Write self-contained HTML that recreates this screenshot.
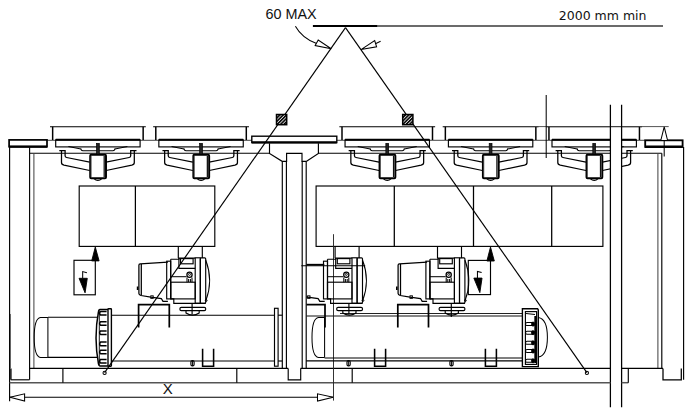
<!DOCTYPE html>
<html><head><meta charset="utf-8"><title>Lifting diagram</title>
<style>html,body{margin:0;padding:0;background:#fff}svg{display:block}text{fill:#111}</style></head>
<body><svg width="686" height="413" viewBox="0 0 686 413" shape-rendering="geometricPrecision">
<rect width="686" height="413" fill="#fff"/>
<text x="265.5" y="19.1" font-size="14.4" font-family='"Liberation Sans", Arial, sans-serif' >60 MAX</text>
<text x="558.8" y="19.9" font-size="12.5" font-family='"DejaVu Sans", Verdana, sans-serif' >2000 mm min</text>
<text x="162.7" y="394.4" font-size="15" font-family='"Liberation Sans", Arial, sans-serif' >X</text>
<line x1="312.9" y1="25.9" x2="377.6" y2="25.9" stroke="#000" stroke-width="1.95" />
<line x1="377.6" y1="26" x2="663" y2="26" stroke="#3a3a3a" stroke-width="1.38" />
<line x1="345.5" y1="27.7" x2="104.6" y2="372.6" stroke="#000" stroke-width="1.15" />
<line x1="345.5" y1="27.7" x2="586.9" y2="372.6" stroke="#000" stroke-width="1.15" />
<circle cx="104.6" cy="372.90000000000003" r="1.6" stroke="#000" stroke-width="1.03" fill="none"/>
<circle cx="586.9" cy="372.90000000000003" r="1.6" stroke="#000" stroke-width="1.03" fill="none"/>
<path d="M295.4,26.2 Q302,38 316.6,43.6" stroke="#000" stroke-width="1.03" fill="none" />
<path d="M315.2,45.6 L318.2,40.0 L331.2,48.7 Z" stroke="#000" stroke-width="1.03" fill="#fff" />
<path d="M361,49.6 L374.7,40.6 L376.6,46.8 Z" stroke="#000" stroke-width="1.03" fill="#fff" />
<line x1="375.4" y1="43.7" x2="380.6" y2="41.3" stroke="#000" stroke-width="1.03" />
<defs><pattern id="h" width="2.4" height="2.4" patternUnits="userSpaceOnUse" patternTransform="rotate(-45)"><rect width="2.4" height="2.4" fill="#ddd"/><rect width="2.4" height="1.5" fill="#000"/></pattern></defs>
<rect x="276.5" y="114.5" width="10.2" height="10.2" fill="url(#h)" stroke="#000" stroke-width="1.5"/>
<rect x="402.7" y="114.5" width="10.2" height="10.2" fill="url(#h)" stroke="#000" stroke-width="1.5"/>
<line x1="47.1" y1="140.3" x2="251.8" y2="140.3" stroke="#333" stroke-width="0.92" />
<line x1="336.8" y1="140.3" x2="645" y2="140.3" stroke="#333" stroke-width="0.92" />
<line x1="29.6" y1="153.2" x2="269.5" y2="153.2" stroke="#000" stroke-width="1.15" />
<line x1="318.4" y1="153.2" x2="610.4" y2="153.2" stroke="#000" stroke-width="1.15" />
<line x1="621.6" y1="153.2" x2="661.8" y2="153.2" stroke="#000" stroke-width="1.15" />
<line x1="50.00000000000001" y1="126.7" x2="145.8" y2="126.7" stroke="#000" stroke-width="1.15" />
<line x1="52.650000000000006" y1="126.7" x2="52.650000000000006" y2="140" stroke="#000" stroke-width="1.49" />
<line x1="143.15" y1="126.7" x2="143.15" y2="140" stroke="#000" stroke-width="1.49" />
<rect x="55.7" y="139.9" width="84.4" height="7.0" rx="0" stroke="#000" stroke-width="1.15" fill="none"/>
<line x1="55.7" y1="139.7" x2="140.10000000000002" y2="139.7" stroke="#000" stroke-width="1.72" />
<path d="M68.4,146.6 L80.9,149 M127.4,146.6 L114.9,149" stroke="#000" stroke-width="1.03" fill="none" />
<path d="M80.9,148.6 Q80.9,150.8 82.9,150.8 L112.9,150.8 Q114.9,150.8 114.9,148.6" stroke="#000" stroke-width="1.03" fill="none" />
<path d="M59.300000000000004,150.7 L65.10000000000001,150.7 L65.10000000000001,155.8 Q65.10000000000001,157.2 66.60000000000001,157.5 L89.7,162.2" stroke="#000" stroke-width="1.26" fill="none" />
<path d="M61.50000000000001,151 L61.50000000000001,162.4 Q61.50000000000001,164.5 64.0,165.1 L89.7,170.5" stroke="#000" stroke-width="1.26" fill="none" />
<path d="M136.5,150.7 L130.7,150.7 L130.7,155.8 Q130.7,157.2 129.2,157.5 L106.10000000000001,162.2" stroke="#000" stroke-width="1.26" fill="none" />
<path d="M134.3,151 L134.3,162.4 Q134.3,164.5 131.8,165.1 L106.10000000000001,170.5" stroke="#000" stroke-width="1.26" fill="none" />
<rect x="96.5" y="143.4" width="2.8" height="11.6" rx="0" stroke="#000" stroke-width="0.69" fill="#222"/>
<rect x="90.2" y="154.7" width="15.8" height="23.6" rx="1" stroke="#000" stroke-width="1.95" fill="#fff"/>
<line x1="104.2" y1="156" x2="104.2" y2="177" stroke="#111" stroke-width="1.26" />
<line x1="91.10000000000001" y1="156" x2="91.10000000000001" y2="177" stroke="#555" stroke-width="0.8" />
<path d="M93.9,178.6 Q97.9,182 101.9,178.6" stroke="#000" stroke-width="1.15" fill="none" />
<line x1="153.15" y1="126.7" x2="248.95000000000002" y2="126.7" stroke="#000" stroke-width="1.15" />
<line x1="155.8" y1="126.7" x2="155.8" y2="140" stroke="#000" stroke-width="1.49" />
<line x1="246.3" y1="126.7" x2="246.3" y2="140" stroke="#000" stroke-width="1.49" />
<rect x="158.85000000000002" y="139.9" width="84.4" height="7.0" rx="0" stroke="#000" stroke-width="1.15" fill="none"/>
<line x1="158.85000000000002" y1="139.7" x2="243.25" y2="139.7" stroke="#000" stroke-width="1.72" />
<path d="M171.55,146.6 L184.05,149 M230.55,146.6 L218.05,149" stroke="#000" stroke-width="1.03" fill="none" />
<path d="M184.05,148.6 Q184.05,150.8 186.05,150.8 L216.05,150.8 Q218.05,150.8 218.05,148.6" stroke="#000" stroke-width="1.03" fill="none" />
<path d="M162.45000000000002,150.7 L168.25,150.7 L168.25,155.8 Q168.25,157.2 169.75,157.5 L192.85000000000002,162.2" stroke="#000" stroke-width="1.26" fill="none" />
<path d="M164.65,151 L164.65,162.4 Q164.65,164.5 167.15,165.1 L192.85000000000002,170.5" stroke="#000" stroke-width="1.26" fill="none" />
<path d="M239.65,150.7 L233.85000000000002,150.7 L233.85000000000002,155.8 Q233.85000000000002,157.2 232.35000000000002,157.5 L209.25,162.2" stroke="#000" stroke-width="1.26" fill="none" />
<path d="M237.45000000000002,151 L237.45000000000002,162.4 Q237.45000000000002,164.5 234.95000000000002,165.1 L209.25,170.5" stroke="#000" stroke-width="1.26" fill="none" />
<rect x="199.65" y="143.4" width="2.8" height="11.6" rx="0" stroke="#000" stroke-width="0.69" fill="#222"/>
<rect x="193.35000000000002" y="154.7" width="15.8" height="23.6" rx="1" stroke="#000" stroke-width="1.95" fill="#fff"/>
<line x1="207.35000000000002" y1="156" x2="207.35000000000002" y2="177" stroke="#111" stroke-width="1.26" />
<line x1="194.25" y1="156" x2="194.25" y2="177" stroke="#555" stroke-width="0.8" />
<path d="M197.05,178.6 Q201.05,182 205.05,178.6" stroke="#000" stroke-width="1.15" fill="none" />
<line x1="339.35" y1="126.7" x2="435.15" y2="126.7" stroke="#000" stroke-width="1.15" />
<line x1="342.0" y1="126.7" x2="342.0" y2="140" stroke="#000" stroke-width="1.49" />
<line x1="432.5" y1="126.7" x2="432.5" y2="140" stroke="#000" stroke-width="1.49" />
<rect x="345.05" y="139.9" width="84.4" height="7.0" rx="0" stroke="#000" stroke-width="1.15" fill="none"/>
<line x1="345.05" y1="139.7" x2="429.45" y2="139.7" stroke="#000" stroke-width="1.72" />
<path d="M357.75,146.6 L370.25,149 M416.75,146.6 L404.25,149" stroke="#000" stroke-width="1.03" fill="none" />
<path d="M370.25,148.6 Q370.25,150.8 372.25,150.8 L402.25,150.8 Q404.25,150.8 404.25,148.6" stroke="#000" stroke-width="1.03" fill="none" />
<path d="M348.65,150.7 L354.45,150.7 L354.45,155.8 Q354.45,157.2 355.95,157.5 L379.05,162.2" stroke="#000" stroke-width="1.26" fill="none" />
<path d="M350.85,151 L350.85,162.4 Q350.85,164.5 353.35,165.1 L379.05,170.5" stroke="#000" stroke-width="1.26" fill="none" />
<path d="M425.85,150.7 L420.05,150.7 L420.05,155.8 Q420.05,157.2 418.55,157.5 L395.45,162.2" stroke="#000" stroke-width="1.26" fill="none" />
<path d="M423.65,151 L423.65,162.4 Q423.65,164.5 421.15,165.1 L395.45,170.5" stroke="#000" stroke-width="1.26" fill="none" />
<rect x="385.85" y="143.4" width="2.8" height="11.6" rx="0" stroke="#000" stroke-width="0.69" fill="#222"/>
<rect x="379.55" y="154.7" width="15.8" height="23.6" rx="1" stroke="#000" stroke-width="1.95" fill="#fff"/>
<line x1="393.55" y1="156" x2="393.55" y2="177" stroke="#111" stroke-width="1.26" />
<line x1="380.45" y1="156" x2="380.45" y2="177" stroke="#555" stroke-width="0.8" />
<path d="M383.25,178.6 Q387.25,182 391.25,178.6" stroke="#000" stroke-width="1.15" fill="none" />
<line x1="442.70000000000005" y1="126.7" x2="538.5" y2="126.7" stroke="#000" stroke-width="1.15" />
<line x1="445.35" y1="126.7" x2="445.35" y2="140" stroke="#000" stroke-width="1.49" />
<line x1="535.85" y1="126.7" x2="535.85" y2="140" stroke="#000" stroke-width="1.49" />
<rect x="448.40000000000003" y="139.9" width="84.4" height="7.0" rx="0" stroke="#000" stroke-width="1.15" fill="none"/>
<line x1="448.40000000000003" y1="139.7" x2="532.8000000000001" y2="139.7" stroke="#000" stroke-width="1.72" />
<path d="M461.1,146.6 L473.6,149 M520.1,146.6 L507.6,149" stroke="#000" stroke-width="1.03" fill="none" />
<path d="M473.6,148.6 Q473.6,150.8 475.6,150.8 L505.6,150.8 Q507.6,150.8 507.6,148.6" stroke="#000" stroke-width="1.03" fill="none" />
<path d="M452.0,150.7 L457.8,150.7 L457.8,155.8 Q457.8,157.2 459.3,157.5 L482.40000000000003,162.2" stroke="#000" stroke-width="1.26" fill="none" />
<path d="M454.20000000000005,151 L454.20000000000005,162.4 Q454.20000000000005,164.5 456.70000000000005,165.1 L482.40000000000003,170.5" stroke="#000" stroke-width="1.26" fill="none" />
<path d="M529.2,150.7 L523.4,150.7 L523.4,155.8 Q523.4,157.2 521.9,157.5 L498.8,162.2" stroke="#000" stroke-width="1.26" fill="none" />
<path d="M527.0,151 L527.0,162.4 Q527.0,164.5 524.5,165.1 L498.8,170.5" stroke="#000" stroke-width="1.26" fill="none" />
<rect x="489.20000000000005" y="143.4" width="2.8" height="11.6" rx="0" stroke="#000" stroke-width="0.69" fill="#222"/>
<rect x="482.90000000000003" y="154.7" width="15.8" height="23.6" rx="1" stroke="#000" stroke-width="1.95" fill="#fff"/>
<line x1="496.90000000000003" y1="156" x2="496.90000000000003" y2="177" stroke="#111" stroke-width="1.26" />
<line x1="483.8" y1="156" x2="483.8" y2="177" stroke="#555" stroke-width="0.8" />
<path d="M486.6,178.6 Q490.6,182 494.6,178.6" stroke="#000" stroke-width="1.15" fill="none" />
<line x1="546.3000000000001" y1="126.7" x2="642.1" y2="126.7" stroke="#000" stroke-width="1.15" />
<line x1="548.95" y1="126.7" x2="548.95" y2="140" stroke="#000" stroke-width="1.49" />
<line x1="639.45" y1="126.7" x2="639.45" y2="140" stroke="#000" stroke-width="1.49" />
<rect x="552.0" y="139.9" width="84.4" height="7.0" rx="0" stroke="#000" stroke-width="1.15" fill="none"/>
<line x1="552.0" y1="139.7" x2="636.4000000000001" y2="139.7" stroke="#000" stroke-width="1.72" />
<path d="M564.7,146.6 L577.2,149 M623.7,146.6 L611.2,149" stroke="#000" stroke-width="1.03" fill="none" />
<path d="M577.2,148.6 Q577.2,150.8 579.2,150.8 L609.2,150.8 Q611.2,150.8 611.2,148.6" stroke="#000" stroke-width="1.03" fill="none" />
<path d="M555.6,150.7 L561.4000000000001,150.7 L561.4000000000001,155.8 Q561.4000000000001,157.2 562.9000000000001,157.5 L586.0,162.2" stroke="#000" stroke-width="1.26" fill="none" />
<path d="M557.8000000000001,151 L557.8000000000001,162.4 Q557.8000000000001,164.5 560.3000000000001,165.1 L586.0,170.5" stroke="#000" stroke-width="1.26" fill="none" />
<path d="M632.8000000000001,150.7 L627.0,150.7 L627.0,155.8 Q627.0,157.2 625.5,157.5 L602.4000000000001,162.2" stroke="#000" stroke-width="1.26" fill="none" />
<path d="M630.6,151 L630.6,162.4 Q630.6,164.5 628.1,165.1 L602.4000000000001,170.5" stroke="#000" stroke-width="1.26" fill="none" />
<rect x="592.8000000000001" y="143.4" width="2.8" height="11.6" rx="0" stroke="#000" stroke-width="0.69" fill="#222"/>
<rect x="586.5" y="154.7" width="15.8" height="23.6" rx="1" stroke="#000" stroke-width="1.95" fill="#fff"/>
<line x1="600.5" y1="156" x2="600.5" y2="177" stroke="#111" stroke-width="1.26" />
<line x1="587.4000000000001" y1="156" x2="587.4000000000001" y2="177" stroke="#555" stroke-width="0.8" />
<path d="M590.2,178.6 Q594.2,182 598.2,178.6" stroke="#000" stroke-width="1.15" fill="none" />
<line x1="535" y1="126.6" x2="668.7" y2="126.6" stroke="#444" stroke-width="0.92" />
<rect x="9.1" y="139.9" width="37.9" height="6.8" rx="0" stroke="#000" stroke-width="1.72" fill="none"/>
<line x1="8.9" y1="146.6" x2="47.1" y2="146.6" stroke="#000" stroke-width="2.42" />
<line x1="9.6" y1="147" x2="9.6" y2="401.2" stroke="#000" stroke-width="1.15" />
<line x1="10.9" y1="368.4" x2="10.9" y2="379.8" stroke="#000" stroke-width="1.38" />
<line x1="10.5" y1="314" x2="10.5" y2="368.4" stroke="#333" stroke-width="0.69" />
<line x1="10.9" y1="379.8" x2="29.5" y2="379.8" stroke="#000" stroke-width="1.15" />
<line x1="29.6" y1="147.3" x2="29.6" y2="379.8" stroke="#000" stroke-width="1.15" />
<line x1="33.9" y1="153.2" x2="33.9" y2="368.4" stroke="#444" stroke-width="1.03" />
<rect x="251.8" y="136.2" width="85.0" height="6.4" rx="0" stroke="#000" stroke-width="1.38" fill="none"/>
<line x1="251.8" y1="142.4" x2="336.8" y2="142.4" stroke="#000" stroke-width="2.3" />
<path d="M269.5,143.3 L269.5,153.4 L282.3,161.4 L282.3,368.4 M282.3,161.4 L286.6,161.4 L286.6,153.4 L302,153.4 L302,161.4 L306.2,161.4 L306.2,368.4 M306.2,161.4 L318.4,153.4 L318.4,143.3" stroke="#000" stroke-width="1.15" fill="none" />
<line x1="286.4" y1="161.4" x2="286.4" y2="368.4" stroke="#000" stroke-width="1.15" />
<line x1="302.2" y1="161.4" x2="302.2" y2="368.4" stroke="#000" stroke-width="1.15" />
<path d="M288.2,368.4 L288.2,379.8 L300.7,379.8 L300.7,368.4" stroke="#000" stroke-width="1.15" fill="none" />
<rect x="79.2" y="186" width="135.6" height="60.4" rx="0" stroke="#000" stroke-width="1.15" fill="none"/>
<line x1="135.4" y1="186" x2="135.4" y2="246.4" stroke="#000" stroke-width="1.26" />
<rect x="316.1" y="186" width="286.8" height="60.4" rx="0" stroke="#000" stroke-width="1.15" fill="none"/>
<line x1="394.3" y1="186" x2="394.3" y2="246.4" stroke="#000" stroke-width="1.26" />
<line x1="473.5" y1="186" x2="473.5" y2="246.4" stroke="#000" stroke-width="1.26" />
<line x1="551.7" y1="186" x2="551.7" y2="246.4" stroke="#000" stroke-width="1.26" />
<rect x="610.4" y="127.6" width="11.2" height="279" fill="#fff"/>
<line x1="610.4" y1="104.8" x2="610.4" y2="407.2" stroke="#000" stroke-width="1.26" />
<line x1="621.6" y1="104.8" x2="621.6" y2="407.2" stroke="#000" stroke-width="1.26" />
<line x1="546.2" y1="94.9" x2="546.2" y2="158" stroke="#000" stroke-width="1.03" />
<rect x="645.2" y="140.3" width="37.4" height="6.6" rx="0" stroke="#000" stroke-width="1.84" fill="none"/>
<line x1="645" y1="146.7" x2="682.7" y2="146.7" stroke="#000" stroke-width="2.53" />
<line x1="664.2" y1="140" x2="664.2" y2="156.5" stroke="#000" stroke-width="1.03" />
<path d="M664.2,126.8 L660.8,140.4 L667.6,140.4 Z" stroke="#000" stroke-width="1.03" fill="#fff" />
<line x1="657.9" y1="153.2" x2="657.9" y2="368.4" stroke="#444" stroke-width="1.03" />
<line x1="661.8" y1="153.2" x2="661.8" y2="368.4" stroke="#000" stroke-width="1.15" />
<line x1="683.6" y1="147" x2="683.6" y2="379.8" stroke="#000" stroke-width="1.15" />
<path d="M663,368.4 L663,379.8 L681.3,379.8 L681.3,368.4" stroke="#000" stroke-width="1.26" fill="none" />
<line x1="29.5" y1="368.4" x2="288.2" y2="368.4" stroke="#000" stroke-width="1.15" />
<line x1="300.5" y1="368.4" x2="610.4" y2="368.4" stroke="#000" stroke-width="1.15" />
<line x1="621.6" y1="368.4" x2="663" y2="368.4" stroke="#000" stroke-width="1.15" />
<line x1="9.6" y1="382.7" x2="610.4" y2="382.7" stroke="#555" stroke-width="1.49" />
<line x1="621.6" y1="382.7" x2="628.3" y2="382.7" stroke="#555" stroke-width="1.49" />
<line x1="62.9" y1="368.4" x2="62.9" y2="382.7" stroke="#000" stroke-width="1.15" />
<line x1="236.8" y1="368.4" x2="236.8" y2="382.7" stroke="#000" stroke-width="1.15" />
<line x1="352.2" y1="368.4" x2="352.2" y2="382.7" stroke="#000" stroke-width="1.15" />
<line x1="628.3" y1="368.4" x2="628.3" y2="382.7" stroke="#000" stroke-width="1.15" />
<line x1="9.6" y1="397.2" x2="333.3" y2="397.2" stroke="#000" stroke-width="1.03" />
<path d="M10,397.2 L24.6,393.8 L24.6,401 Z" stroke="#000" stroke-width="1.03" fill="#fff" />
<path d="M333.2,397.2 L317.5,393.8 L317.5,401 Z" stroke="#000" stroke-width="1.03" fill="#fff" />
<line x1="333.5" y1="234.2" x2="333.5" y2="400.6" stroke="#222" stroke-width="0.92" />
<line x1="301.3" y1="265.7" x2="365.2" y2="265.7" stroke="#000" stroke-width="1.03" />
<path d="M47.9,317.6 L40.5,317.6 Q34.2,318.5 34.2,337.5 Q34.2,356.5 40.5,357.4 L47.9,357.4" stroke="#000" stroke-width="1.03" fill="none" />
<line x1="47.9" y1="317.6" x2="47.9" y2="357.4" stroke="#000" stroke-width="1.03" />
<line x1="47.9" y1="317.2" x2="98" y2="317.2" stroke="#000" stroke-width="1.15" />
<line x1="47.9" y1="357.3" x2="98" y2="357.3" stroke="#000" stroke-width="1.15" />
<rect x="108" y="308.7" width="3.4" height="57.5" rx="0.6" stroke="#000" stroke-width="1.38" fill="none"/>
<path d="M108,309.4 L99.9,309.4 Q98.7,309.6 98.5,311.4 Q93.6,337.5 98.5,364 Q98.7,365.8 99.9,366 L108,366" stroke="#000" stroke-width="1.49" fill="none" />
<line x1="99.3" y1="310.5" x2="99.3" y2="365" stroke="#000" stroke-width="0.92" />
<path d="M106.6,311.5 L100.6,311.5 Q98.6,313.3 100.6,315.1 L106.6,315.1" stroke="#000" stroke-width="1.49" fill="none" />
<path d="M106.6,321.7 L100.6,321.7 Q98.6,323.5 100.6,325.3 L106.6,325.3" stroke="#000" stroke-width="1.49" fill="none" />
<path d="M106.6,330.9 L100.6,330.9 Q98.6,332.7 100.6,334.5 L106.6,334.5" stroke="#000" stroke-width="1.49" fill="none" />
<path d="M106.6,342.09999999999997 L100.6,342.09999999999997 Q98.6,343.9 100.6,345.7 L106.6,345.7" stroke="#000" stroke-width="1.49" fill="none" />
<path d="M106.6,350.2 L100.6,350.2 Q98.6,352 100.6,353.8 L106.6,353.8" stroke="#000" stroke-width="1.49" fill="none" />
<path d="M106.6,359.4 L100.6,359.4 Q98.6,361.2 100.6,363.0 L106.6,363.0" stroke="#000" stroke-width="1.49" fill="none" />
<line x1="111.4" y1="315.2" x2="274.5" y2="315.2" stroke="#000" stroke-width="1.15" />
<line x1="111.4" y1="361" x2="274.5" y2="361" stroke="#000" stroke-width="1.15" />
<rect x="274.5" y="308.3" width="3.6" height="57.9" rx="0" stroke="#000" stroke-width="1.15" fill="none"/>
<line x1="278.1" y1="315.2" x2="282.3" y2="315.2" stroke="#000" stroke-width="1.15" />
<line x1="278.1" y1="361" x2="282.3" y2="361" stroke="#000" stroke-width="1.15" />
<path d="M324.6,317.6 L318.5,317.6 Q312,318.5 312,337.5 Q312,356.5 318.5,357.4 L324.6,357.4" stroke="#000" stroke-width="1.03" fill="none" />
<line x1="324.6" y1="317.6" x2="324.6" y2="357.4" stroke="#000" stroke-width="1.03" />
<line x1="306.5" y1="315.9" x2="522.2" y2="315.9" stroke="#111" stroke-width="1.03" />
<line x1="340" y1="313.5" x2="522.2" y2="313.5" stroke="#222" stroke-width="1.03" />
<line x1="324.6" y1="358" x2="522.2" y2="358" stroke="#000" stroke-width="1.03" />
<line x1="306.2" y1="360.8" x2="522.2" y2="360.8" stroke="#000" stroke-width="1.15" />
<path d="M522.4,308.7 L537.6,308.7 L538.3,310 L538.3,366.6 L522.4,366.6 Z" stroke="#000" stroke-width="1.38" fill="none" />
<rect x="525.4" y="311.6" width="11.2" height="52.8" rx="0" stroke="#000" stroke-width="1.15" fill="none"/>
<line x1="535.3" y1="316" x2="535.3" y2="363" stroke="#000" stroke-width="1.95" />
<line x1="526" y1="313.6" x2="535" y2="314.6" stroke="#000" stroke-width="1.03" />
<rect x="525.6" y="322.6" width="8.2" height="3.0" rx="1.4" stroke="#000" stroke-width="1.03" fill="none"/>
<rect x="531.6" y="322.20000000000005" width="3.0" height="3.8" rx="1.2" stroke="#000" stroke-width="0.92" fill="#000"/>
<rect x="525.6" y="331.2" width="8.2" height="3.0" rx="1.4" stroke="#000" stroke-width="1.03" fill="none"/>
<rect x="531.6" y="330.8" width="3.0" height="3.8" rx="1.2" stroke="#000" stroke-width="0.92" fill="#000"/>
<rect x="525.6" y="341.3" width="8.2" height="3.0" rx="1.4" stroke="#000" stroke-width="1.03" fill="none"/>
<rect x="531.6" y="340.90000000000003" width="3.0" height="3.8" rx="1.2" stroke="#000" stroke-width="0.92" fill="#000"/>
<rect x="525.6" y="349.5" width="8.2" height="3.0" rx="1.4" stroke="#000" stroke-width="1.03" fill="none"/>
<rect x="531.6" y="349.1" width="3.0" height="3.8" rx="1.2" stroke="#000" stroke-width="0.92" fill="#000"/>
<rect x="525.6" y="359.3" width="8.2" height="3.0" rx="1.4" stroke="#000" stroke-width="1.03" fill="none"/>
<rect x="531.6" y="358.90000000000003" width="3.0" height="3.8" rx="1.2" stroke="#000" stroke-width="0.92" fill="#000"/>
<path d="M538.3,317.4 C545,318.5 547.4,327 547.4,337.2 C547.4,348 545,356 538.3,357.1" stroke="#000" stroke-width="1.03" fill="none" />
<path d="M202.6,348.7 L202.6,366.2 L213.6,366.2 L213.6,348.7" stroke="#000" stroke-width="1.55" fill="none" />
<path d="M374.6,348.7 L374.6,366.2 L385.6,366.2 L385.6,348.7" stroke="#000" stroke-width="1.55" fill="none" />
<path d="M485.4,348.7 L485.4,366.2 L496.4,366.2 L496.4,348.7" stroke="#000" stroke-width="1.55" fill="none" />
<rect x="190.9" y="360.6" width="3.2" height="5.4" rx="1.4" stroke="#000" stroke-width="1.15" fill="none"/>
<line x1="192.5" y1="361" x2="192.5" y2="366" stroke="#000" stroke-width="0.92" />
<rect x="347.0" y="360.6" width="3.2" height="5.4" rx="1.4" stroke="#000" stroke-width="1.15" fill="none"/>
<line x1="348.6" y1="361" x2="348.6" y2="366" stroke="#000" stroke-width="0.92" />
<rect x="449.9" y="360.6" width="3.2" height="5.4" rx="1.4" stroke="#000" stroke-width="1.15" fill="none"/>
<line x1="451.5" y1="361" x2="451.5" y2="366" stroke="#000" stroke-width="0.92" />
<line x1="178.3" y1="246.4" x2="178.3" y2="258.1" stroke="#000" stroke-width="1.15" />
<line x1="202.3" y1="246.4" x2="202.3" y2="258.1" stroke="#000" stroke-width="1.15" />
<path d="M167.9,262.2 L140.2,263.9 Q138.9,264 138.9,265.3 L138.9,293.6 Q138.9,294.9 141,295.5 L150.8,297.2 L161.3,298.5 L163,301.4 L167.9,301.4" stroke="#000" stroke-width="1.26" fill="none" />
<line x1="141.3" y1="264" x2="141.3" y2="295.6" stroke="#000" stroke-width="1.26" />
<rect x="150.8" y="295.8" width="2.4" height="2.6" rx="0" stroke="#000" stroke-width="0.92" fill="none"/>
<line x1="137.6" y1="286.5" x2="137.6" y2="290" stroke="#000" stroke-width="1.61" />
<rect x="166.7" y="261.2" width="4.0" height="37.7" rx="0" stroke="#000" stroke-width="1.15" fill="none"/>
<path d="M170.7,259.2 L178.9,259.2 L178.9,258.1 L195.2,258.1 M170.7,298.9 L173.8,298.9 L173.8,303.3 L205.7,303.3" stroke="#000" stroke-width="1.15" fill="none" />
<line x1="170.7" y1="259.2" x2="170.7" y2="298.9" stroke="#000" stroke-width="1.15" />
<rect x="195.2" y="257.8" width="5.1" height="45.5" rx="0" stroke="#000" stroke-width="1.15" fill="none"/>
<rect x="200.3" y="257.8" width="5.4" height="45.5" rx="1" stroke="#000" stroke-width="1.15" fill="none"/>
<path d="M205.7,260 Q213.6,280.5 205.7,301" stroke="#000" stroke-width="1.03" fill="none" />
<circle cx="206.2" cy="300.5" r="0.9" stroke="#000" stroke-width="0.92" fill="none"/>
<path d="M178.9,258.1 L178.9,268.3 L195.2,268.3" stroke="#000" stroke-width="1.15" fill="none" />
<rect x="180.5" y="258.6" width="12.6" height="5.2" rx="0" stroke="#000" stroke-width="1.15" fill="none"/>
<line x1="170.7" y1="276.7" x2="186.5" y2="276.7" stroke="#000" stroke-width="1.03" />
<rect x="170.7" y="282.2" width="24.5" height="16.7" rx="0" stroke="#000" stroke-width="1.15" fill="none"/>
<circle cx="189.5" cy="274.8" r="2.6" stroke="#000" stroke-width="1.26" fill="none"/>
<circle cx="189.5" cy="274.4" r="1.0" stroke="#000" stroke-width="0.92" fill="none"/>
<path d="M187,277.5 L187,282.2 M192,277.5 L192,282.2 M188.6,279 L188.6,282 M190.4,279 L190.4,282" stroke="#000" stroke-width="1.03" fill="none" />
<line x1="192.1" y1="303.3" x2="192.1" y2="314.6" stroke="#000" stroke-width="1.15" />
<rect x="179.9" y="307.4" width="25.8" height="3.3" rx="1.4" stroke="#000" stroke-width="1.15" fill="none"/>
<path d="M186,310.7 L186,313 Q192.6,317.4 199.2,313 L199.2,310.7" stroke="#000" stroke-width="1.15" fill="none" />
<path d="M138.6,327.4 L138.6,304.6 L169.3,304.6 L169.3,327.4" stroke="#000" stroke-width="1.72" fill="none" />
<line x1="335.1" y1="246.4" x2="335.1" y2="258.1" stroke="#000" stroke-width="1.15" />
<line x1="359.1" y1="246.4" x2="359.1" y2="258.1" stroke="#000" stroke-width="1.15" />
<line x1="306.5" y1="264.7" x2="324.3" y2="264.7" stroke="#000" stroke-width="1.72" />
<path d="M306.5,296.9 L307.6,297.2 L318.1,298.5 L319.8,301.4 L324.7,301.4" stroke="#000" stroke-width="1.26" fill="none" />
<rect x="307.6" y="295.8" width="2.4" height="2.6" rx="0" stroke="#000" stroke-width="0.92" fill="none"/>
<rect x="323.5" y="261.2" width="4.0" height="37.7" rx="0" stroke="#000" stroke-width="1.15" fill="none"/>
<path d="M327.5,259.2 L335.7,259.2 L335.7,258.1 L352.0,258.1 M327.5,298.9 L330.6,298.9 L330.6,303.3 L362.5,303.3" stroke="#000" stroke-width="1.15" fill="none" />
<line x1="327.5" y1="259.2" x2="327.5" y2="298.9" stroke="#000" stroke-width="1.15" />
<rect x="352.0" y="257.8" width="5.1" height="45.5" rx="0" stroke="#000" stroke-width="1.15" fill="none"/>
<rect x="357.1" y="257.8" width="5.4" height="45.5" rx="1" stroke="#000" stroke-width="1.15" fill="none"/>
<path d="M362.5,260 Q370.4,280.5 362.5,301" stroke="#000" stroke-width="1.03" fill="none" />
<circle cx="363.0" cy="300.5" r="0.9" stroke="#000" stroke-width="0.92" fill="none"/>
<path d="M335.7,258.1 L335.7,268.3 L352.0,268.3" stroke="#000" stroke-width="1.15" fill="none" />
<rect x="337.3" y="258.6" width="12.6" height="5.2" rx="0" stroke="#000" stroke-width="1.15" fill="none"/>
<line x1="327.5" y1="276.7" x2="343.3" y2="276.7" stroke="#000" stroke-width="1.03" />
<rect x="327.5" y="282.2" width="24.5" height="16.7" rx="0" stroke="#000" stroke-width="1.15" fill="none"/>
<circle cx="346.3" cy="274.8" r="2.6" stroke="#000" stroke-width="1.26" fill="none"/>
<circle cx="346.3" cy="274.4" r="1.0" stroke="#000" stroke-width="0.92" fill="none"/>
<path d="M343.8,277.5 L343.8,282.2 M348.8,277.5 L348.8,282.2 M345.4,279 L345.4,282 M347.2,279 L347.2,282" stroke="#000" stroke-width="1.03" fill="none" />
<line x1="348.9" y1="303.3" x2="348.9" y2="314.6" stroke="#000" stroke-width="1.15" />
<rect x="336.7" y="307.4" width="25.8" height="3.3" rx="1.4" stroke="#000" stroke-width="1.15" fill="none"/>
<path d="M342.8,310.7 L342.8,313 Q349.4,317.4 356.0,313 L356.0,310.7" stroke="#000" stroke-width="1.15" fill="none" />
<path d="M306.5,304.6 L325.0,304.6 L325.0,327.4" stroke="#000" stroke-width="1.72" fill="none" />
<line x1="437.5" y1="246.4" x2="437.5" y2="258.1" stroke="#000" stroke-width="1.15" />
<line x1="461.5" y1="246.4" x2="461.5" y2="258.1" stroke="#000" stroke-width="1.15" />
<path d="M427.1,262.2 L399.4,263.9 Q398.1,264 398.1,265.3 L398.1,293.6 Q398.1,294.9 400.2,295.5 L410.0,297.2 L420.5,298.5 L422.2,301.4 L427.1,301.4" stroke="#000" stroke-width="1.26" fill="none" />
<line x1="400.5" y1="264" x2="400.5" y2="295.6" stroke="#000" stroke-width="1.26" />
<rect x="410.0" y="295.8" width="2.4" height="2.6" rx="0" stroke="#000" stroke-width="0.92" fill="none"/>
<line x1="396.8" y1="286.5" x2="396.8" y2="290" stroke="#000" stroke-width="1.61" />
<rect x="425.9" y="261.2" width="4.0" height="37.7" rx="0" stroke="#000" stroke-width="1.15" fill="none"/>
<path d="M429.9,259.2 L438.1,259.2 L438.1,258.1 L454.4,258.1 M429.9,298.9 L433.0,298.9 L433.0,303.3 L464.9,303.3" stroke="#000" stroke-width="1.15" fill="none" />
<line x1="429.9" y1="259.2" x2="429.9" y2="298.9" stroke="#000" stroke-width="1.15" />
<rect x="454.4" y="257.8" width="5.1" height="45.5" rx="0" stroke="#000" stroke-width="1.15" fill="none"/>
<rect x="459.5" y="257.8" width="5.4" height="45.5" rx="1" stroke="#000" stroke-width="1.15" fill="none"/>
<path d="M464.9,260 Q472.8,280.5 464.9,301" stroke="#000" stroke-width="1.03" fill="none" />
<circle cx="465.4" cy="300.5" r="0.9" stroke="#000" stroke-width="0.92" fill="none"/>
<path d="M438.1,258.1 L438.1,268.3 L454.4,268.3" stroke="#000" stroke-width="1.15" fill="none" />
<rect x="439.7" y="258.6" width="12.6" height="5.2" rx="0" stroke="#000" stroke-width="1.15" fill="none"/>
<line x1="429.9" y1="276.7" x2="445.7" y2="276.7" stroke="#000" stroke-width="1.03" />
<rect x="429.9" y="282.2" width="24.5" height="16.7" rx="0" stroke="#000" stroke-width="1.15" fill="none"/>
<circle cx="448.7" cy="274.8" r="2.6" stroke="#000" stroke-width="1.26" fill="none"/>
<circle cx="448.7" cy="274.4" r="1.0" stroke="#000" stroke-width="0.92" fill="none"/>
<path d="M446.2,277.5 L446.2,282.2 M451.2,277.5 L451.2,282.2 M447.8,279 L447.8,282 M449.6,279 L449.6,282" stroke="#000" stroke-width="1.03" fill="none" />
<line x1="451.3" y1="303.3" x2="451.3" y2="317" stroke="#000" stroke-width="1.15" />
<rect x="439.1" y="307.4" width="25.8" height="3.3" rx="1.4" stroke="#000" stroke-width="1.15" fill="none"/>
<path d="M445.2,310.7 L445.2,313 Q451.8,317.4 458.4,313 L458.4,310.7" stroke="#000" stroke-width="1.15" fill="none" />
<path d="M397.8,327.4 L397.8,304.6 L428.5,304.6 L428.5,327.4" stroke="#000" stroke-width="1.72" fill="none" />
<rect x="74" y="260.3" width="21.3" height="34.5" rx="0" stroke="#000" stroke-width="1.15" fill="none"/>
<path d="M95.3,247.1 L91.7,260.90000000000003 L99.1,260.90000000000003 Z" stroke="#000" stroke-width="0.92" fill="#000" />
<path d="M85.076,292.8 L79.076,278.3 L87.276,278.3 Z" stroke="#000" stroke-width="0.92" fill="#000" />
<path d="M82.67599999999999,278.3 L82.67599999999999,271.6 L86.87599999999999,272.8" stroke="#000" stroke-width="1.03" fill="none" />
<rect x="468.3" y="260.4" width="22.2" height="34.2" rx="0" stroke="#000" stroke-width="1.15" fill="none"/>
<path d="M490.5,247.1 L486.9,261.0 L494.3,261.0 Z" stroke="#000" stroke-width="0.92" fill="#000" />
<path d="M479.844,292.6 L473.844,278.1 L482.044,278.1 Z" stroke="#000" stroke-width="0.92" fill="#000" />
<path d="M477.444,278.1 L477.444,271.40000000000003 L481.644,272.6" stroke="#000" stroke-width="1.03" fill="none" />
</svg></body></html>
